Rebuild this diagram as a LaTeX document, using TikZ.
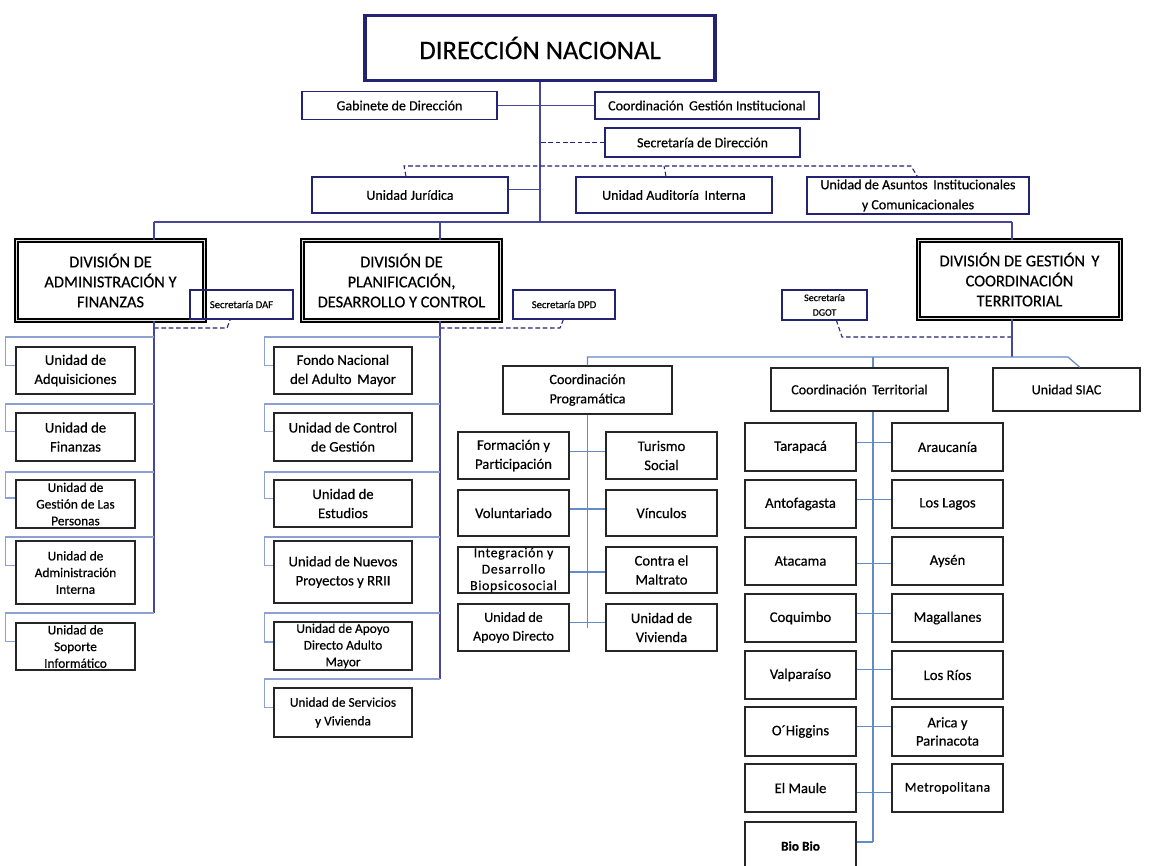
\documentclass[tikz,border=0pt]{standalone}
\usepackage{fontspec}
\setmainfont{Carlito}[FakeBold=0.45]
\definecolor{navy}{RGB}{35,35,115}
\definecolor{treec}{RGB}{70,70,155}
\definecolor{brc}{RGB}{140,160,212}
\definecolor{pcc}{RGB}{100,138,200}
\newcommand\myfs[2]{\fontsize{#1}{#2}\selectfont}
\begin{document}
\begin{tikzpicture}[x=0.75pt,y=-0.75pt,
  sz/.style 2 args={minimum width=#1*0.75pt, minimum height=#2*0.75pt},
  base/.style={inner sep=0pt, align=center, font=\myfs{10.5}{14}},
  up/.style={base, draw=navy, line width=1pt},
  dnbox/.style={base, draw=navy, line width=2.6pt, font=\myfs{20}{24}},
  divbox/.style={base, draw=black, line width=1.2pt, double=black!12, double distance=1.3pt, font=\myfs{12.3}{15}},
  ch/.style={base, draw=black!85, line width=1.1pt, font=\myfs{11}{14.3}},
  ch3/.style={base, draw=black!85, line width=1.1pt, font=\myfs{10}{12.5}},
  tree/.style={draw=treec, line width=0.9pt},
  brk/.style={draw=brc, line width=0.9pt},
  pcl/.style={draw=pcc, line width=0.9pt},
  dsh/.style={draw=navy, line width=0.8pt, dash pattern=on 3.5pt off 2pt}
]
\useasboundingbox (0,0) rectangle (1157,865);
\fill[white] (0,0) rectangle (1157,865);

% ---------- top level ----------
\node[dnbox, sz={350}{65}] (dn) at (540,48) {DIRECCIÓN NACIONAL};
\node[up, sz={195}{28}] (gab) at (399.5,105.5) {Gabinete de Dirección};
\node[up, sz={224}{27}] (cgi) at (707,105.5) {Coordinación\ \,Gestión Institucional};
\node[up, sz={195}{29}] (sec) at (702.5,142.5) {Secretaría de Dirección};
\node[up, sz={196}{36}] (uj) at (410,195) {Unidad Jurídica};
\node[up, sz={196}{36}] (uai) at (674,195) {Unidad Auditoría\ \,Interna};
\node[up, sz={222}{37}, font=\myfs{10.5}{15}] (uac) at (918,195.5) {Unidad de Asuntos\ \,Institucionales\\y Comunicacionales};

\coordinate (j1) at (540,222);
\coordinate (bl) at (154,222);
\coordinate (bm) at (440,222);
\coordinate (br) at (1012,222);
\coordinate (dl) at (404,166);
\coordinate (dr) at (911,166);

\draw[tree] (dn.south) -- (j1);
\draw[tree] (gab.east) -- (cgi.west);
\draw[tree] ([yshift=4pt]uj.east) -- ([yshift=4pt]uj.east -| dn.south);
\draw[dsh] (sec.west) -- (sec.west -| dn.south);
\draw[dsh] ([xshift=-3pt]uj.north) -- (dl) -- (dr) -- ([xshift=-0.5pt]uac.north);
\draw[dsh] ([xshift=-6pt]uai.north) -- ([xshift=-7.5pt]uai.north |- dl);

% ---------- divisions ----------
\draw[tree] (bl) -- (br);
\node[divbox, sz={188}{80}] (daf) at (110.5,280.5) {DIVISIÓN DE\\ADMINISTRACIÓN Y\\FINANZAS};
\node[divbox, sz={198}{80}] (dpd) at (401.5,280.5) {DIVISIÓN DE\\PLANIFICACIÓN,\\DESARROLLO Y CONTROL};
\node[divbox, sz={202}{78}] (dgct) at (1019.5,279.5) {DIVISIÓN DE GESTIÓN\ \,Y\\COORDINACIÓN\\TERRITORIAL};
\draw[tree] (bl) -- (bl |- daf.north);
\draw[tree] (bm) -- (bm |- dpd.north);
\draw[tree] (br) -- (br |- dgct.north);

\node[up, sz={103}{29}, font=\myfs{8}{10}] (sdaf) at (241.5,304.5) {Secretaría DAF};
\node[up, sz={102}{29}, font=\myfs{8}{10}] (sdpd) at (564,304.5) {Secretaría DPD};
\node[up, sz={85}{30}, font=\myfs{7.5}{11}] (sdgot) at (824.5,305) {Secretaría\\DGOT};

\coordinate (ds1) at (154,328);
\coordinate (ds2) at (440,328);
\coordinate (ds3) at (1012,337);
\draw[dsh] (ds1) -- ++(73,0) -- ([xshift=-8.5pt]sdaf.south);
\draw[dsh] (ds2) -- ++(120,0) -- ([xshift=-0.5pt]sdpd.south);
\draw[dsh] (ds3) -- ++(-170,0) -- ([xshift=9pt]sdgot.south);

% ---------- DAF children ----------
\node[ch, sz={119}{47}] (adq) at (75.5,370.5) {Unidad de\\Adquisiciones};
\node[ch, sz={119}{48}] (fin) at (75.5,437) {Unidad de\\Finanzas};
\node[ch3, sz={119}{48}] (gdp) at (75.5,504) {Unidad de\\Gestión de Las\\Personas};
\node[ch3, sz={119}{63}] (adm) at (75.5,572.5) {Unidad de\\Administración\\Interna};
\node[ch3, sz={119}{47}] (sop) at (75.5,646.5) {Unidad de\\Soporte\\Informático};

\coordinate (a1) at (154,337);
\coordinate (a2) at (154,404);
\coordinate (a3) at (154,472);
\coordinate (a4) at (154,537);
\coordinate (a5) at (154,613);
\draw[tree] (bl |- daf.south) -- (a5);
\draw[brk] (a1) -| ([xshift=-7.5pt,yshift=4pt]adq.west) -- ([yshift=4pt]adq.west);
\draw[brk] (a2) -| ([xshift=-7.5pt,yshift=4pt]fin.west) -- ([yshift=4pt]fin.west);
\draw[brk] (a3) -| ([xshift=-7.5pt,yshift=4.5pt]gdp.west) -- ([yshift=4.5pt]gdp.west);
\draw[brk] (a4) -| ([xshift=-7.5pt,yshift=5.5pt]adm.west) -- ([yshift=5.5pt]adm.west);
\draw[brk] (a5) -| ([xshift=-7.5pt,yshift=3.5pt]sop.west) -- ([yshift=3.5pt]sop.west);

% ---------- DPD children ----------
\node[ch, sz={138}{47}] (fnam) at (343,370.5) {Fondo Nacional\\del Adulto\ \,Mayor};
\node[ch, sz={138}{48}] (ucg) at (343,437) {Unidad de Control\\de Gestión};
\node[ch, sz={138}{47}] (uest) at (343,503.5) {Unidad de\\Estudios};
\node[ch, sz={138}{62}] (unp) at (343,572) {Unidad de Nuevos\\Proyectos y RRII};
\node[ch3, sz={138}{48}] (uada) at (343,646) {Unidad de Apoyo\\Directo Adulto\\Mayor};
\node[ch3, sz={138}{49}, font=\myfs{10}{14}] (usv) at (343,712.5) {Unidad de Servicios\\y Vivienda};

\coordinate (p1) at (440,337);
\coordinate (p2) at (440,404);
\coordinate (p3) at (440,472);
\coordinate (p4) at (440,537);
\coordinate (p5) at (440,613);
\coordinate (p6) at (440,679);
\draw[tree] (bm |- dpd.south) -- (p6);
\draw[brk] (p1) -| ([xshift=-6.75pt,yshift=4pt]fnam.west) -- ([yshift=4pt]fnam.west);
\draw[brk] (p2) -| ([xshift=-6.75pt,yshift=4pt]ucg.west) -- ([yshift=4pt]ucg.west);
\draw[brk] (p3) -| ([xshift=-6.75pt,yshift=4pt]uest.west) -- ([yshift=4pt]uest.west);
\draw[brk] (p4) -| ([xshift=-6.75pt,yshift=5pt]unp.west) -- ([yshift=5pt]unp.west);
\draw[brk] (p5) -| ([xshift=-6.75pt,yshift=3pt]uada.west) -- ([yshift=3pt]uada.west);
\draw[brk] (p6) -| ([xshift=-6.75pt,yshift=4pt]usv.west) -- ([yshift=4pt]usv.west);

% ---------- DGCT children ----------
\node[ch, line width=1pt, sz={169}{48}, font=\myfs{10.6}{14.5}] (cp) at (587.5,390) {Coordinación\\Programática};
\node[ch, line width=1pt, sz={177}{43}, font=\myfs{10.5}{14}] (ct) at (859.5,389.5) {Coordinación\ \,Territorial};
\node[ch, line width=1pt, sz={147}{43}, font=\myfs{10.5}{14}] (siac) at (1066.5,389.5) {Unidad SIAC};

\coordinate (b2l) at (587.5,357);
\coordinate (b2r) at (1068,357);
\coordinate (tv) at (873,357);
\draw[tree] (br |- dgct.south) -- (br |- b2l);
\draw[pcl] (cp.north) -- (b2l) -- (b2r) -- ([xshift=10pt]siac.north);
\draw[pcl] (tv) -- (tv |- ct.north);

% programática
\node[ch, sz={111}{47}] (fp) at (513.5,455.5) {Formación y\\Participación};
\node[ch, sz={111}{47}] (ts) at (661.5,455.5) {Turismo\\Social};
\node[ch, sz={111}{46}] (vol) at (513.5,513) {Voluntariado};
\node[ch, sz={111}{46}] (vin) at (661.5,513) {Vínculos};
\node[ch3, sz={111}{46}, font=\myfs{10.3}{12.3}] (idb) at (513.5,570) {\addfontfeature{LetterSpace=5}Integración y\\\addfontfeature{LetterSpace=5}Desarrollo\\\addfontfeature{LetterSpace=5}Biopsicosocial};
\node[ch, sz={111}{46}] (cm) at (661.5,570) {Contra el\\Maltrato};
\node[ch, sz={111}{47}, font=\myfs{10.5}{14}] (uapd) at (513.5,627.5) {Unidad de\\Apoyo Directo};
\node[ch, sz={111}{47}] (uviv) at (661.5,627.5) {Unidad de\\Vivienda};
\draw[pcl] (cp.south) -- (cp.south |- uapd.east);
\draw[pcl] ([yshift=3pt]fp.east) -- ([yshift=3pt]ts.west);
\draw[pcl] ([yshift=3pt]vol.east) -- ([yshift=3pt]vin.west);
\draw[pcl] ([yshift=-1.5pt]idb.east) -- ([yshift=-1.5pt]cm.west);
\draw[pcl] ([yshift=3.5pt]uapd.east) -- ([yshift=3.5pt]uviv.west);

% territorial
\node[ch, sz={111}{48}] (tar) at (800.5,447) {Tarapacá};
\node[ch, sz={111}{48}] (ant) at (800.5,504) {Antofagasta};
\node[ch, sz={111}{48}] (ata) at (800.5,561) {Atacama};
\node[ch, sz={111}{48}] (coq) at (800.5,618) {Coquimbo};
\node[ch, sz={111}{48}] (val) at (800.5,675) {Valparaíso};
\node[ch, sz={111}{49}] (ohi) at (800.5,731.5) {O´Higgins};
\node[ch, sz={111}{48}] (mau) at (800.5,788) {El Maule};
\node[ch, sz={111}{48}, font=\bfseries\myfs{10}{12}] (bio) at (800.5,846) {Bio Bio};
\node[ch, sz={111}{48}] (ara) at (947.5,447) {Araucanía};
\node[ch, sz={111}{48}] (lag) at (947.5,504) {Los Lagos};
\node[ch, sz={111}{48}] (ays) at (947.5,561) {Aysén};
\node[ch, sz={111}{48}] (mag) at (947.5,618) {Magallanes};
\node[ch, sz={111}{48}] (rio) at (947.5,675) {Los Ríos};
\node[ch, sz={111}{49}, font=\myfs{11}{13.7}] (ari) at (947.5,731.5) {Arica y\\Parinacota};
\node[ch, sz={111}{48}, font=\myfs{10.3}{12}] (met) at (947.5,788) {\addfontfeature{LetterSpace=3}Metropolitana};
\draw[pcl] (tv |- ct.south) -- ([yshift=3pt]tv |- bio.east);
\draw[pcl] ([yshift=3.5pt]tar.east) -- ([yshift=3.5pt]ara.west);
\draw[pcl] ([yshift=3.5pt]ant.east) -- ([yshift=3.5pt]lag.west);
\draw[pcl] ([yshift=-2pt]ata.east) -- ([yshift=-2pt]ays.west);
\draw[pcl] ([yshift=3.5pt]coq.east) -- ([yshift=3.5pt]mag.west);
\draw[pcl] ([yshift=4pt]val.east) -- ([yshift=4pt]rio.west);
\draw[pcl] ([yshift=3.5pt]ohi.east) -- ([yshift=3.5pt]ari.west);
\draw[pcl] ([yshift=-3.5pt]mau.east) -- ([yshift=-3.5pt]met.west);
\draw[pcl] ([yshift=3pt]bio.east) -- ([yshift=3pt]tv |- bio.east);
\end{tikzpicture}
\end{document}
